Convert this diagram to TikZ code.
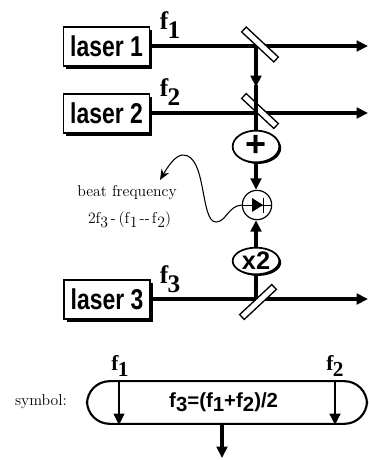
\documentclass[tikz,border=0pt]{standalone}
\usepackage{fontspec}
\setmainfont{Liberation Sans}
\newfontfamily\labfont[FakeStretch=0.8]{Liberation Sans Bold}
\newfontfamily\eqfont{Liberation Sans Bold}
\newfontfamily\freqfont{Liberation Serif Bold}
\newfontfamily\thinfont{Latin Modern Roman}
\usetikzlibrary{arrows.meta,shapes.geometric,shadows}
\newcommand{\fq}[1]{{\fontsize{19}{19}\selectfont\freqfont f\kern-0.5pt\raisebox{-6.5pt}{#1}}}
\newcommand{\fqs}[1]{{\fontsize{16}{16}\selectfont\freqfont f\kern-0.5pt\raisebox{-5pt}{#1}}}
\newcommand{\subd}[1]{\raisebox{-3pt}{#1}}
\tikzset{
  x=0.75pt,y=-0.75pt,
  beam/.style={line width=2.4pt},
  tip/.style={-{Triangle[length=8.5pt,width=8pt]}},
  laserbox/.style={draw,line width=1.1pt,fill=white,minimum width=64.5pt,minimum height=29pt,inner sep=0pt,
    drop shadow={shadow xshift=2pt,shadow yshift=-2.2pt,fill=black,opacity=1},
    font=\fontsize{21.5}{22}\labfont},
  splitter/.style={draw,line width=1pt,fill=white,minimum width=33pt,minimum height=5pt,inner sep=0pt},
  combiner/.style={ellipse,draw,line width=1.3pt,fill=white,minimum width=35pt,minimum height=20pt,inner sep=0pt,
    drop shadow={shadow xshift=1.4pt,shadow yshift=-1.2pt,fill=black,opacity=1},
    font=\eqfont},
  freq/.style={inner sep=0pt},
  thin/.style={inner sep=0pt,font=\fontsize{11.8}{12}\thinfont},
}
\begin{document}
\begin{tikzpicture}
\useasboundingbox (0,0) rectangle (368,460);
% lasers
\node[laserbox] (l1) at (106.5,46.5) {laser 1};
\node[laserbox] (l2) at (106.5,113.5) {laser 2};
\node[laserbox] (l3) at (107,299.5) {laser 3};
% free ends
\coordinate (e1) at (368,46);
\coordinate (e2) at (368,113);
\coordinate (e3) at (368,299);
\coordinate (j1) at (256,46);
\coordinate (j2) at (256,113);
\coordinate (j3) at (256,299);
% transmitted beams
\draw[beam,tip] (l1.east |- e1) -- (e1);
\draw[beam,tip] (l2.east |- e2) -- (e2);
\draw[beam,tip] (l3.east |- e3) -- (e3);
% splitters
\node[splitter,rotate=-43] (s1) at (260,44.5) {};
\node[splitter,rotate=-43] (s2) at (260,111) {};
\node[splitter,rotate=43] (s3) at (258,302) {};
% reflected part
\draw[beam] (l1.east |- e1) -- (j1);
\draw[beam] (l2.east |- e2) -- (j2);
\draw[beam] (l3.east |- e3) -- (j3);
% combiners and detector
\node[combiner,font=\fontsize{27}{27}\eqfont] (plus) at (256,146.5) {\raisebox{1pt}{+}};
\node[combiner,font=\fontsize{19}{19}\eqfont] (x2) at (256,261) {x2};
\node[circle,draw,line width=0.9pt,fill=white,minimum size=22pt,inner sep=0pt] (det) at (257,205) {};
\draw[beam,tip] (j1) -- (256,87);
\draw[beam] (256,85) -- (plus.north);
\draw[beam,tip] (plus.south) -- (det.north -| plus.south);
\draw[beam,tip] (x2.north) -- (det.south -| x2.north);
\draw[beam] (j3) -- (x2.south);
% diode symbol
\draw[line width=0.6pt] (det.west) -- (det.east);
\fill (252,198) -- (263,205) -- (252,212) -- cycle;
\draw[line width=1.1pt] (263.5,198) -- (263.5,213);
% wiggly line
\coordinate (w) at (160,180);
\draw[line width=0.8pt,-{Stealth[length=8pt,width=6.5pt]}] (det.west) .. controls (228,206) and (226,222) .. (216,222)
  .. controls (200,222) and (207,155) .. (183,155) .. controls (175,155) and (167,168) .. (w);
% labels
\node[freq] (tf1) at (170,25) {\fq{1}};
\node[freq] (tf2) at (170,92) {\fq{2}};
\node[freq] (tf3) at (170,279) {\fq{3}};
\node[thin] (tb) at (127,193) {beat frequency};
\node[thin] (tc) at (129.5,220) {2f\subd{3}\kern2pt-\kern2pt(f\kern.5pt\subd{1}\kern1.5pt--\kern1.5ptf\kern.5pt\subd{2})};
% symbol
\node[draw,line width=1.6pt,rounded corners=17pt,minimum width=210pt,minimum height=32pt,inner sep=0pt,
  font=\fontsize{15.3}{15}\eqfont] (sym) at (227,402.5) {f\raisebox{-3pt}{3}=(f\raisebox{-3pt}{1}+f\raisebox{-3pt}{2})/2\kern5pt};
\node[thin] (ts) at (41,402) {symbol:};
\node[freq] (sf1) at (120,366) {\fqs{1}};
\node[freq] (sf2) at (335,366) {\fqs{2}};
\coordinate (a1) at (119,381);
\coordinate (a2) at (335,381);
\coordinate (a3) at (222,424);
\draw[line width=1.4pt,tip] (a1) -- (a1 |- sym.south);
\draw[line width=2pt,tip] (a2) -- (a2 |- sym.south);
\coordinate (a4) at (222,458);
\draw[beam,tip] (a3) -- (a4);
\end{tikzpicture}
\end{document}
